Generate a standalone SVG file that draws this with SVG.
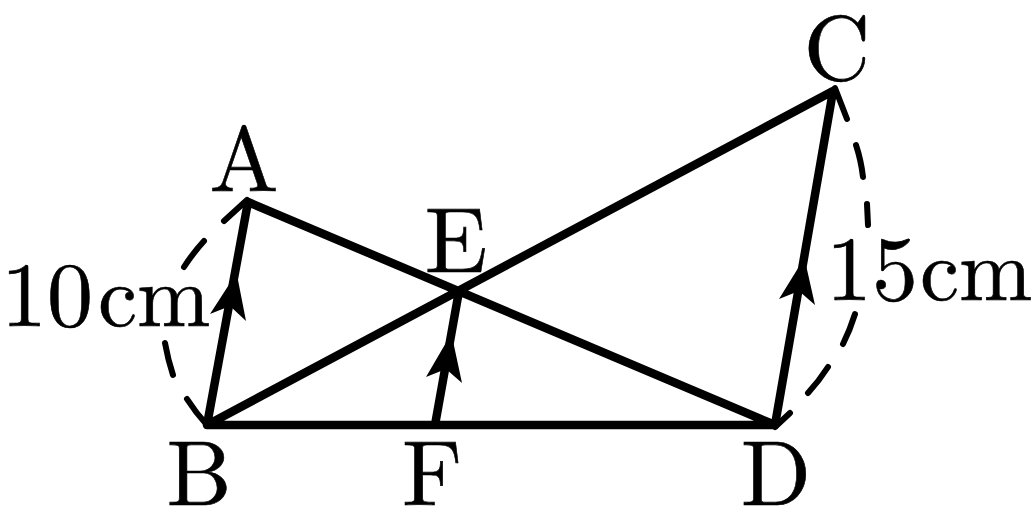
<svg xmlns="http://www.w3.org/2000/svg" width="1034" height="532" viewBox="0 0 1034 532">
<style>
.l{fill:none;stroke:#000;stroke-width:8.5;stroke-linecap:round;stroke-linejoin:round}
.d{fill:none;stroke:#000;stroke-width:6;stroke-linecap:round}
.t{font-family:"Latin Modern Roman","Liberation Serif",serif;fill:#000;stroke:#000;stroke-width:.6;font-size:92px}
.u{font-size:88px}
</style>
<rect width="1034" height="532" fill="#fff"/>
<g id="connectors">
<path class="l" d="M207 425L248 202L775 425L833 91L207 425M207 425H775M435 425L459 291"/>
<path class="d" d="M224 221L247 200M184 267Q193 253 204 241M165 343Q168 360 173 375M187 399Q196 413 207 425"/>
<path class="d" d="M835 88L847 119M856 145Q861 160 863 177M867 204L868 225M855 314Q850 330 843 344M828 367Q819 381 808 393M790 413L775 427"/>
<path d="M232 280L210 314L230 306L246 321L238 280Z"/>
<path d="M800 265L779 299L799 291L815 305L806 265Z"/>
<path d="M447 341L426 377L446 369L462 383L453 341Z"/>
</g>
<g id="A"><text class="t" x="244" y="191" text-anchor="middle">A</text></g>
<g id="B"><text class="t" x="199" y="505" text-anchor="middle">B</text></g>
<g id="C"><text class="t" x="837" y="80" text-anchor="middle">C</text></g>
<g id="D"><text class="t" x="776" y="505" text-anchor="middle">D</text></g>
<g id="E"><text class="t" x="456" y="272" text-anchor="middle">E</text></g>
<g id="F"><text class="t" x="432" y="505" text-anchor="middle">F</text></g>
<g id="len1"><text class="t" x="1" y="326">10</text><text class="t u" x="98" y="326">cm</text></g>
<g id="len2"><text class="t" x="826" y="300">15</text><text class="t u" x="920" y="300">cm</text></g>
</svg>
